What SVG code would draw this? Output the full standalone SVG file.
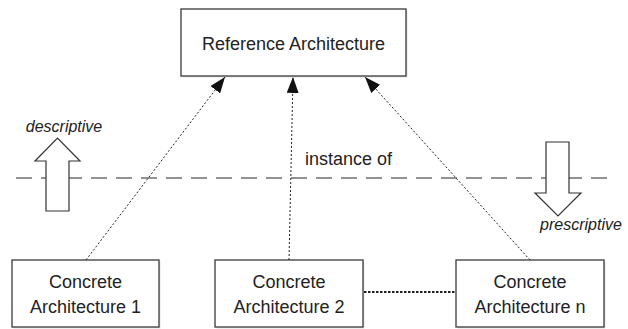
<svg xmlns="http://www.w3.org/2000/svg" width="628" height="329" viewBox="0 0 628 329">
  <style>
    .box { fill: #ffffff; stroke: #3a3a3a; stroke-width: 1.3; }
    .shadow { fill: #e2e2e2; }
    .label { font-family: "Liberation Sans", Arial, sans-serif; font-size: 18px; fill: #222222; text-anchor: middle; }
    .note { font-family: "Liberation Sans", Arial, sans-serif; font-size: 16px; font-style: italic; fill: #222222; text-anchor: middle; }
    .link { fill: none; stroke: #222222; stroke-width: 1; stroke-dasharray: 2 2; }
    .peer { fill: none; stroke: #222222; stroke-width: 2; stroke-dasharray: 2.5 1.5; }
    .boundary { fill: none; stroke: #6e6e6e; stroke-width: 1.5; stroke-dasharray: 16 9; }
    .hollow { fill: #ffffff; stroke: #333333; stroke-width: 1.2; }
  </style>
  <defs>
    <marker id="head" viewBox="0 0 16 12" refX="16" refY="6" markerWidth="16" markerHeight="12" markerUnits="userSpaceOnUse" orient="auto">
      <path d="M0,0 L16,6 L0,12 Z" fill="#111111"/>
    </marker>
  </defs>

  <!-- abstraction boundary -->
  <line class="boundary" x1="16" y1="178" x2="614" y2="178"/>

  <!-- direction indicators -->
  <g id="descriptive">
    <path class="hollow" d="M46,211 L46,161 L35,161 L57.5,138 L80,161 L69,161 L69,211 Z"/>
    <text class="note" x="64" y="132">descriptive</text>
  </g>
  <g id="prescriptive">
    <path class="hollow" d="M546,142 L569,142 L569,193 L581,193 L558,216 L535,193 L546,193 Z"/>
    <text class="note" x="581" y="230">prescriptive</text>
  </g>

  <!-- nodes -->
  <g id="reference">
    <rect class="shadow" x="182.5" y="10.5" width="225" height="67"/>
    <rect class="box" x="181" y="9" width="225" height="67"/>
    <text class="label" x="293.5" y="50">Reference Architecture</text>
  </g>
  <g id="concrete1">
    <rect class="shadow" x="13.5" y="261.5" width="147" height="67"/>
    <rect class="box" x="12" y="260" width="147" height="67"/>
    <text class="label" x="85.5" y="288">Concrete</text>
    <text class="label" x="85.5" y="313">Architecture 1</text>
  </g>
  <g id="concrete2">
    <rect class="shadow" x="216.5" y="261.5" width="148" height="67"/>
    <rect class="box" x="215" y="260" width="148" height="67"/>
    <text class="label" x="289" y="288">Concrete</text>
    <text class="label" x="289" y="313">Architecture 2</text>
  </g>
  <g id="concreteN">
    <rect class="shadow" x="457.5" y="261.5" width="148" height="67"/>
    <rect class="box" x="456" y="260" width="148" height="67"/>
    <text class="label" x="530" y="288">Concrete</text>
    <text class="label" x="530" y="313">Architecture n</text>
  </g>

  <!-- connectors -->
  <g id="connectors">
    <line class="link" x1="86" y1="260" x2="225" y2="77" marker-end="url(#head)"/>
    <line class="link" x1="289" y1="260" x2="293" y2="77" marker-end="url(#head)"/>
    <line class="link" x1="530" y1="260" x2="365" y2="77" marker-end="url(#head)"/>
    <line class="peer" x1="364" y1="292" x2="455" y2="292"/>
    <text class="label" x="348.5" y="165">instance of</text>
  </g>
</svg>
